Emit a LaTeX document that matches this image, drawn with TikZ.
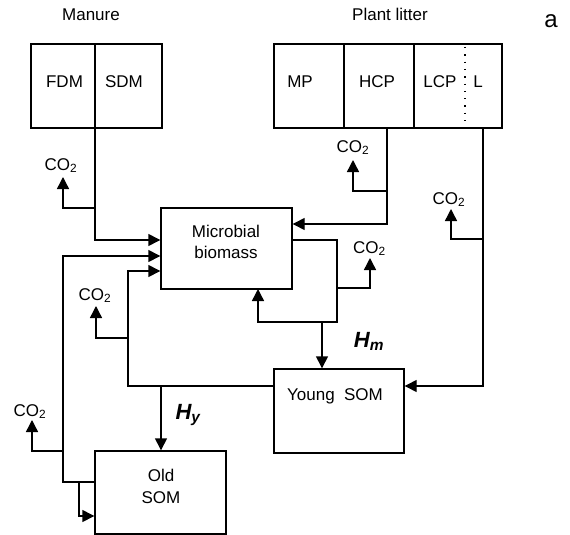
\documentclass[tikz,border=0pt]{standalone}
\usepackage{fontspec}
\setmainfont{Liberation Sans}
\usetikzlibrary{arrows.meta}
\begin{document}
\begin{tikzpicture}[x=1pt,y=-1pt,
  every node/.style={font=\fontsize{17}{21.5}\selectfont, inner sep=0pt},
  box/.style={draw, line width=1.4pt},
  arr/.style={line width=1.4pt, -{Triangle[length=12pt,width=12pt]}},
  lbl/.style={anchor=base},
  hlab/.style={anchor=base, font=\fontsize{22}{26}\selectfont\bfseries\itshape}]
\useasboundingbox (0,0) rectangle (570,535);
% headings
\node[lbl] (tman) at (91,21) {Manure};
\node[lbl] (tpl) at (390,21) {Plant litter};
\node[lbl, font=\fontsize{24}{28}\selectfont] (ta) at (551,28) {a};
% manure boxes
\node[box, minimum width=64pt, minimum height=84pt] (fdm) at (63,86) {};
\node[box, minimum width=67pt, minimum height=84pt] (sdm) at (128.5,86) {};
\node[lbl] (tfdm) at (64.5,88) {FDM};
\node[lbl] (tsdm) at (124,88) {SDM};
% plant litter boxes
\node[box, minimum width=70pt, minimum height=84pt] (mp) at (309,86) {};
\node[box, minimum width=70pt, minimum height=84pt] (hcp) at (379,86) {};
\node[box, minimum width=88pt, minimum height=84pt] (lcp) at (458,86) {};
\node[lbl] (tmp) at (300,88) {MP};
\node[lbl] (thcp) at (377,88) {HCP};
\node[lbl] (tlcp) at (440,88) {LCP};
\node[lbl] (tl) at (478,88) {L};
\coordinate (dt) at (465,47);
\coordinate (db) at (465,124);
\draw[line width=1.3pt, dash pattern=on 1.3pt off 6pt] (dt) -- (db);
% main pools
\node[box, minimum width=131pt, minimum height=81pt] (mb) at (226.5,248.5) {};
\node[align=center] (tmb) at (226,242) {Microbial\\biomass};
\node[box, minimum width=130pt, minimum height=84pt] (ysom) at (339,411) {};
\node[lbl] (tysom) at (335,400) {Young\ \ SOM};
\node[box, minimum width=131pt, minimum height=83pt] (osom) at (160.5,492.5) {};
\node[align=center] (tosom) at (161,486.5) {Old\\SOM};
% CO2 labels
\node[lbl] (c1) at (61,170) {CO\textsubscript{2}};
\node[lbl] (c2) at (353,152) {CO\textsubscript{2}};
\node[lbl] (c3) at (449,204) {CO\textsubscript{2}};
\node[lbl] (c4) at (369.5,253) {CO\textsubscript{2}};
\node[lbl] (c5) at (95,300) {CO\textsubscript{2}};
\node[lbl] (c6) at (30,416) {CO\textsubscript{2}};
% H labels
\node[hlab] (hm) at (369,347) {H\textsubscript{m}};
\node[hlab] (hy) at (188,419) {H\textsubscript{y}};
% manure -> microbial biomass
\coordinate (sdmout) at (95,128);
\draw[arr] (sdmout) -- (95,240) -- (mb.west |- 0,240);
\draw[arr] (95,208) -- (63,208) -- (63,177);
% HCP -> microbial biomass
\coordinate (hcpout) at (387,128);
\draw[arr] (hcpout) -- (387,224) -- (mb.east |- 0,224);
\draw[arr] (387,191) -- (353,191) -- (353,160);
% L -> young SOM
\coordinate (lout) at (483,128);
\draw[arr] (lout) -- (483,386) -- (ysom.east |- 0,386);
\draw[arr] (483,239) -- (451,239) -- (451,209);
% microbial biomass outputs
\draw[arr] (mb.east |- 0,240) -- (337,240) -- (337,322) -- (258,322) -- (258,289);
\draw[arr] (337,288) -- (370,288) -- (370,258);
\draw[arr] (322,322) -- (ysom.north -| 322,0);
% young SOM -> microbial biomass, old SOM
\draw[arr] (ysom.west |- 0,386) -- (128,386) -- (128,271) -- (mb.west |- 0,271);
\draw[arr] (128,338) -- (96,338) -- (96,306);
\draw[arr] (161,386) -- (osom.north -| 161,0);
% old SOM -> microbial biomass
\draw[arr] (osom.west |- 0,482) -- (63,482) -- (63,256) -- (mb.west |- 0,256);
\draw[arr] (63,451) -- (32,451) -- (32,420);
\draw[arr] (79,482) -- (79,516) -- (osom.west |- 0,516);
\end{tikzpicture}
\end{document}
